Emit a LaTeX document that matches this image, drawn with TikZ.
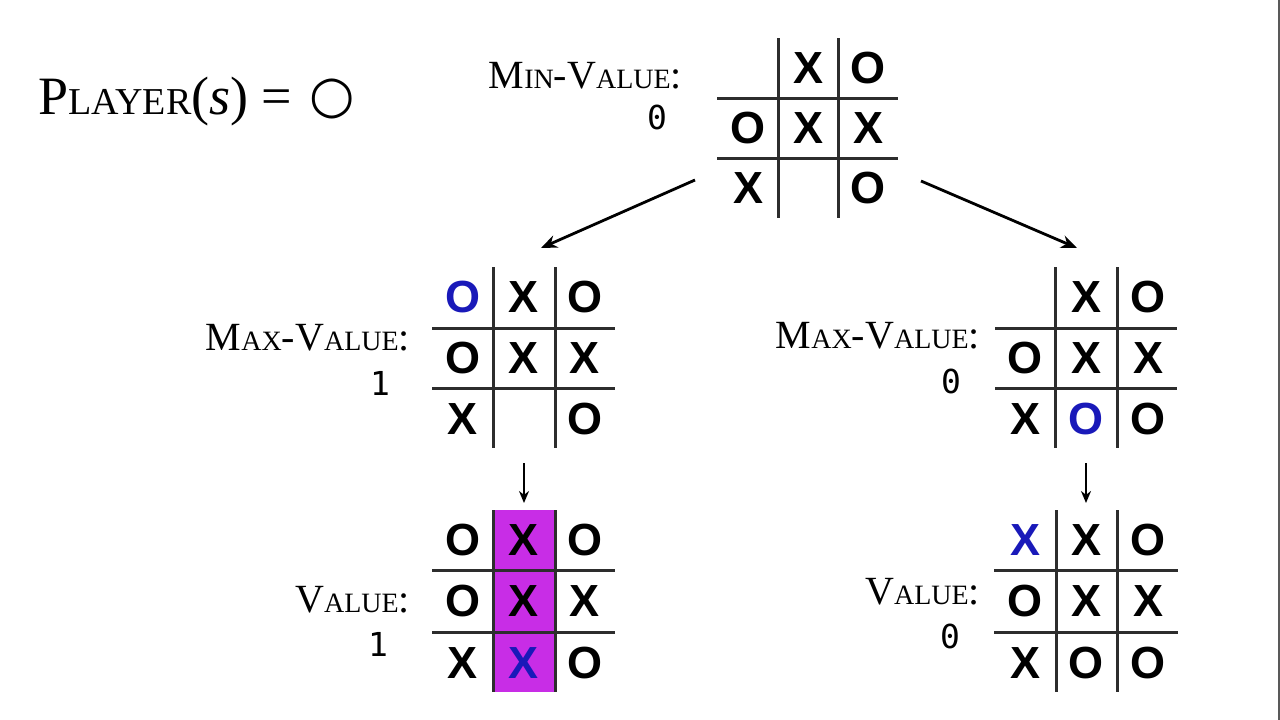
\documentclass[tikz,border=0pt]{standalone}
\usepackage{fontspec}
\setmainfont{Liberation Serif}
\newfontfamily\xofont{Liberation Sans}
\newfontfamily\numfont{DejaVu Sans Mono}
\newfontfamily\symfont{DejaVu Sans}
\usepackage{tikz}
\usetikzlibrary{arrows.meta}
\definecolor{moveblue}{RGB}{25,25,185}
\definecolor{winpink}{RGB}{200,45,230}
\definecolor{gridgray}{RGB}{45,45,45}
\newcommand{\smcap}[1]{{\fontsize{28}{30}\selectfont #1}}
\newcommand{\smtitle}[1]{{\fontsize{38}{40}\selectfont #1}}

\begin{document}
\begin{tikzpicture}[x=1pt,y=1pt,yscale=-1,xscale=1,
  gridline/.style={line width=3pt, color=gridgray},
  xo/.style={font=\xofont\bfseries\fontsize{45}{45}\selectfont, inner sep=0pt},
  xoblue/.style={xo, text=moveblue},
  lbl/.style={font=\fontsize{40}{42}\selectfont, inner sep=0pt, anchor=base east},
  num/.style={font=\numfont\fontsize{33}{33}\selectfont, inner sep=0pt},
  treearrow/.style={line width=2.8pt, -{Stealth[length=16pt,width=13pt]}},
  downarrow/.style={line width=2.4pt, -{Stealth[length=12pt,width=10pt]}}]
\useasboundingbox (0,0) rectangle (1280,720);
%frame edge
\draw [gray!70!black, line width=1.5pt] (1279,0) -- (1279,720);

% Text Node
\node [anchor=base west, inner sep=0pt, font=\fontsize{54}{58}\selectfont] (player) at (38,114) {P\smtitle{LAYER}(\textit{s}) =};
\node [inner sep=0pt, font=\symfont\fontsize{52}{52}\selectfont] (playersym) at (332,99) {○};

%Board: root
\draw [gridline] (778,38) -- (778,218);
\draw [gridline] (838,38) -- (838,218);
\draw [gridline] (717,98) -- (898,98);
\draw [gridline] (717,158) -- (898,158);
\node [xo] (r12) at (808,68) {X};
\node [xo] (r13) at (868,68) {O};
\node [xo] (r21) at (748,128) {O};
\node [xo] (r22) at (808,128) {X};
\node [xo] (r23) at (868,128) {X};
\node [xo] (r31) at (748,188) {X};
\node [xo] (r33) at (868,188) {O};

%Board: left child
\draw [gridline] (493,267) -- (493,448);
\draw [gridline] (555,267) -- (555,448);
\draw [gridline] (432,328) -- (615,328);
\draw [gridline] (432,388) -- (615,388);
\node [xoblue] (l11) at (463,297) {O};
\node [xo] (l12) at (524,297) {X};
\node [xo] (l13) at (585,297) {O};
\node [xo] (l21) at (463,358) {O};
\node [xo] (l22) at (524,358) {X};
\node [xo] (l23) at (585,358) {X};
\node [xo] (l31) at (463,419) {X};
\node [xo] (l33) at (585,419) {O};

%Board: right child
\draw [gridline] (1055,267) -- (1055,448);
\draw [gridline] (1117,267) -- (1117,448);
\draw [gridline] (995,328) -- (1177,328);
\draw [gridline] (995,388) -- (1177,388);
\node [xo] (m12) at (1086,297) {X};
\node [xo] (m13) at (1148,297) {O};
\node [xo] (m21) at (1025,358) {O};
\node [xo] (m22) at (1086,358) {X};
\node [xo] (m23) at (1148,358) {X};
\node [xo] (m31) at (1025,419) {X};
\node [xoblue] (m32) at (1086,419) {O};
\node [xo] (m33) at (1148,419) {O};

%Board: left leaf
\fill [winpink] (493,510) rectangle (555,692);
\draw [gridline] (493,510) -- (493,692);
\draw [gridline] (555,510) -- (555,692);
\draw [gridline] (432,570) -- (615,570);
\draw [gridline] (432,632) -- (615,632);
\node [xo] (p11) at (463,540) {O};
\node [xo] (p12) at (524,540) {X};
\node [xo] (p13) at (585,540) {O};
\node [xo] (p21) at (463,601) {O};
\node [xo] (p22) at (524,601) {X};
\node [xo] (p23) at (585,601) {X};
\node [xo] (p31) at (463,663) {X};
\node [xoblue] (p32) at (524,663) {X};
\node [xo] (p33) at (585,663) {O};

%Board: right leaf
\draw [gridline] (1056,510) -- (1056,692);
\draw [gridline] (1117,510) -- (1117,692);
\draw [gridline] (994,570) -- (1178,570);
\draw [gridline] (994,632) -- (1178,632);
\node [xoblue] (q11) at (1025,540) {X};
\node [xo] (q12) at (1086,540) {X};
\node [xo] (q13) at (1148,540) {O};
\node [xo] (q21) at (1025,601) {O};
\node [xo] (q22) at (1086,601) {X};
\node [xo] (q23) at (1148,601) {X};
\node [xo] (q31) at (1025,663) {X};
\node [xo] (q32) at (1086,663) {O};
\node [xo] (q33) at (1148,663) {O};

% Text Node
\node [lbl] (minlbl) at (682,88) {M\smcap{IN}-V\smcap{ALUE}:};
\node [num] (minval) at (657,117) {0};
% Text Node
\node [lbl] (maxlbl1) at (410,350) {M\smcap{AX}-V\smcap{ALUE}:};
\node [num] (maxval1) at (380,383) {1};
% Text Node
\node [lbl] (maxlbl2) at (980,348) {M\smcap{AX}-V\smcap{ALUE}:};
\node [num] (maxval2) at (951,381) {0};
% Text Node
\node [lbl] (vallbl1) at (410,612) {V\smcap{ALUE}:};
\node [num] (valval1) at (378,644) {1};
% Text Node
\node [lbl] (vallbl2) at (980,604) {V\smcap{ALUE}:};
\node [num] (valval2) at (950,636) {0};

%Arrows
\coordinate (rootL) at (695,180);
\coordinate (leftT) at (541,248);
\coordinate (rootR) at (921,181);
\coordinate (rightT) at (1077,248);
\coordinate (leftB) at (524,463);
\coordinate (pinkT) at (524,503);
\coordinate (rightB) at (1086,463);
\coordinate (leafT) at (1086,503);
\draw [treearrow] (rootL) -- (leftT);
\draw [treearrow] (rootR) -- (rightT);
\draw [downarrow] (leftB) -- (pinkT);
\draw [downarrow] (rightB) -- (leafT);
\end{tikzpicture}
\end{document}
